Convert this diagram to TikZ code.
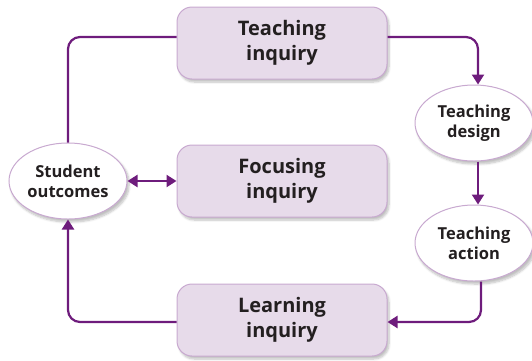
\documentclass[tikz,border=0pt]{standalone}
\usepackage{fontspec}
\setmainfont{Open Sans}
\usetikzlibrary{shapes.geometric,shadows.blur,arrows.meta}
\definecolor{linep}{HTML}{6E1C7C}
\definecolor{boxfill}{HTML}{E7DBEA}
\definecolor{boxline}{HTML}{C8A9D0}
\definecolor{txt}{HTML}{231F20}
\tikzset{
  sh/.style={blur shadow={shadow blur steps=6, shadow xshift=2pt, shadow yshift=-3pt, shadow opacity=25, shadow blur extra rounding=2pt}},
  inq/.style={sh, draw=boxline, line width=1pt, fill=boxfill, rounded corners=15pt,
    minimum width=210pt, minimum height=72pt, align=center, text=txt,
    font=\fontsize{20}{25}\selectfont\bfseries},
  ell/.style={sh, ellipse, draw=boxline, line width=1pt, fill=white, minimum width=118pt,
    minimum height=76pt, inner sep=0pt, align=center, text=txt,
    font=\fontsize{16.5}{20}\selectfont\bfseries},
  conn/.style={draw=linep, line width=2.2pt, rounded corners=12pt},
  arr/.style={conn, -{Triangle[length=10pt,width=12pt]}},
}
\begin{document}
\begin{tikzpicture}[x=1pt,y=-1pt]
\useasboundingbox (0,0) rectangle (532,360);
\node[inq] (ti) at (282,43) {Teaching\\inquiry};
\node[inq] (fi) at (282,181) {Focusing\\inquiry};
\node[inq] (li) at (282,320) {Learning\\inquiry};
\node[ell] (so) at (68,181) {Student\\outcomes};
\node[ell] (td) at (474,123) {Teaching\\design};
\node[ell] (ta) at (474,243) {Teaching\\action};
\coordinate (c1) at (68,37);
\coordinate (c2) at (478,37);
\coordinate (c3) at (481,322);
\coordinate (c4) at (68,322);
\draw[conn] (so.north) -- (c1) -- (ti.west |- c1);
\draw[arr] (ti.east |- c2) -- (c2) -- (td.north -| c2);
\draw[arr] (td.south -| c2) -- (ta.north -| c2);
\draw[arr] (ta.south -| c3) -- (c3) -- (li.east |- c3);
\draw[arr] (li.west |- c4) -- (c4) -- (so.south);
\draw[conn, {Triangle[length=10pt,width=12pt]}-{Triangle[length=10pt,width=12pt]}, rounded corners=0pt] (so.east) -- (fi.west);
\end{tikzpicture}
\end{document}
